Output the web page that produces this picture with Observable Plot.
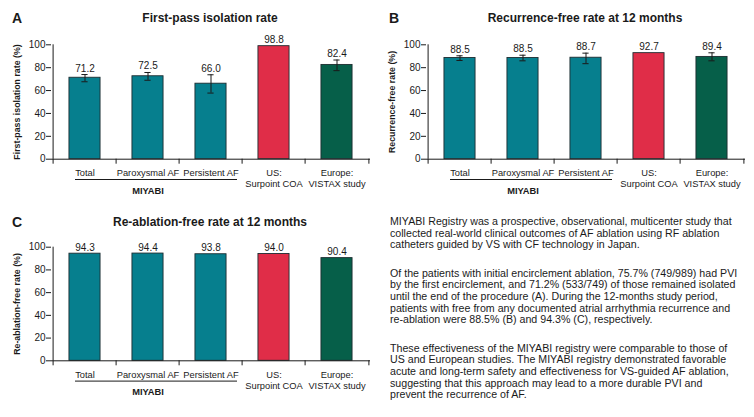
<!DOCTYPE html>
<html>
<head>
<meta charset="utf-8">
<script src="https://cdn.jsdelivr.net/npm/d3@7"></script>
<script src="https://cdn.jsdelivr.net/npm/@observablehq/plot@0.6"></script>
<style>
  html, body { margin: 0; padding: 0; background: #fff; }
  #root { position: relative; width: 754px; height: 417px; overflow: hidden; font-family: "Liberation Sans", Arial, Helvetica, sans-serif; color: #1a1a1a; }
  .panel { position: absolute; }
  .letter { position: absolute; font-weight: bold; font-size: 14px; line-height: 16px; height: 16px; }
  .title { position: absolute; font-weight: bold; font-size: 12px; line-height: 16px; height: 16px; white-space: nowrap; transform: translateX(-50%); }
  .text { position: absolute; left: 390px; top: 216px; font-size: 10.65px; line-height: 11.7px; white-space: nowrap; color: #1a1a1a; }
  .text p { margin: 0 0 16.5px 0; }
</style>
</head>
<body>
<div id="root">
  <div class="panel" id="pA" style="left:0px;top:0px"></div>
  <div class="panel" id="pB" style="left:377px;top:0px"></div>
  <div class="panel" id="pC" style="left:0px;top:205px"></div>
  <div class="letter" style="left:12px;top:10px">A</div>
  <div class="title" style="left:210px;top:10px">First-pass isolation rate</div>
  <div class="letter" style="left:389px;top:10px">B</div>
  <div class="title" style="left:585px;top:10px">Recurrence-free rate at 12 months</div>
  <div class="letter" style="left:12px;top:214px">C</div>
  <div class="title" style="left:210px;top:214px">Re-ablation-free rate at 12 months</div>
  <div class="text">
    <p>MIYABI Registry was a prospective, observational, multicenter study that<br>collected real-world clinical outcomes of AF ablation using RF ablation<br>catheters guided by VS with CF technology in Japan.</p>
    <p>Of the patients with initial encirclement ablation, 75.7% (749/989) had PVI<br>by the first encirclement, and 71.2% (533/749) of those remained isolated<br>until the end of the procedure (A). During the 12-months study period,<br>patients with free from any documented atrial arrhythmia recurrence and<br>re-ablation were 88.5% (B) and 94.3% (C), respectively.</p>
    <p>These effectiveness of the MIYABI registry were comparable to those of<br>US and European studies. The MIYABI registry demonstrated favorable<br>acute and long-term safety and effectiveness for VS-guided AF ablation,<br>suggesting that this approach may lead to a more durable PVI and<br>prevent the recurrence of AF.</p>
  </div>
</div>
<script>
// ---- data ----
const categories = ["Total", "Paroxysmal AF", "Persistent AF", "US: Surpoint COA", "Europe: VISTAX study"];
const tickLabels = ["Total", "Paroxysmal AF", "Persistent AF", "US:\nSurpoint COA", "Europe:\nVISTAX study"];
const groups = ["MIYABI", "MIYABI", "MIYABI", "US", "Europe"];
const groupNames = ["MIYABI", "US", "Europe"];
const groupColors = ["#067f8e", "#e02d48", "#065f49"];
const yTicks = [0, 20, 40, 60, 80, 100];

const firstPass   = [71.2, 72.5, 66.0, 98.8, 82.4];
const firstPassLo = [67.7, 69.0, 57.8, null, 77.4];
const firstPassHi = [74.0, 75.8, 73.8, null, 86.7];

const recurrenceFree   = [88.5, 88.5, 88.7, 92.7, 89.4];
const recurrenceFreeLo = [86.3, 86.0, 83.5, null, 86.0];
const recurrenceFreeHi = [90.4, 90.9, 92.7, null, 93.0];

const reablationFree = [94.3, 94.4, 93.8, 94.0, 90.4];

const FONT = "Liberation Sans, Arial, Helvetica, sans-serif";

function panel({values, lo, hi, yLabel, height, marginTop, marginBottom, marginLeft, marginRight}) {
  const width = 377;
  const data = categories.map((c, i) => ({
    cat: c, group: groups[i], v: values[i],
    lo: lo ? lo[i] : null, hi: hi ? hi[i] : null
  }));
  const withErr = data.filter(d => d.lo != null);
  const bw = (width - marginLeft - marginRight) / categories.length;
  return Plot.plot({
    width, height, marginTop, marginBottom, marginLeft, marginRight,
    style: {fontFamily: FONT, fontSize: "9.5px", color: "#1a1a1a", background: "transparent", overflow: "visible"},
    x: {domain: categories, padding: 0},
    y: {domain: [0, 100]},
    color: {domain: groupNames, range: groupColors},
    marks: [
      Plot.barY(data, {x: "cat", y: "v", fill: "group", stroke: "#1d2c30", strokeWidth: 0.9, insetLeft: bw / 4, insetRight: bw / 4}),
      Plot.ruleX(withErr, {x: "cat", y1: "lo", y2: "hi", stroke: "#1a1a1a", strokeWidth: 1}),
      Plot.tickY(withErr, {x: "cat", y: "lo", stroke: "#1a1a1a", strokeWidth: 1, insetLeft: bw / 2 - 3.5, insetRight: bw / 2 - 3.5}),
      Plot.tickY(withErr, {x: "cat", y: "hi", stroke: "#1a1a1a", strokeWidth: 1, insetLeft: bw / 2 - 3.5, insetRight: bw / 2 - 3.5}),
      Plot.text(data, {x: "cat", y: d => (d.hi != null ? d.hi : d.v), text: d => d.v.toFixed(1), lineAnchor: "bottom", dy: -3, fontSize: 10, fill: "#1a1a1a"}),
      Plot.axisY({ticks: yTicks, tickSize: 5, tickPadding: 1, fontSize: 10, label: yLabel, labelArrow: "none", labelAnchor: "center", labelOffset: 38}),
      Plot.ruleY([0], {stroke: "#1a1a1a"}),
      Plot.ruleX([categories[0]], {x: d => d, y1: () => 0, y2: () => 100, dx: -bw / 2, stroke: "#1a1a1a"}),
      Plot.axisX({tickSize: 0, tickPadding: 9, fontSize: 9.3, lineHeight: 1.2, tickFormat: d => tickLabels[categories.indexOf(d)], label: null}),
      Plot.axisX({tickSize: 5, dx: -bw / 2, tickFormat: () => "", label: null}),
      Plot.axisX({ticks: [categories[categories.length - 1]], tickSize: 5, dx: bw / 2, tickFormat: () => "", label: null}),
      Plot.ruleY([0], {x1: () => categories[0], x2: () => categories[2], dy: 20.3, insetLeft: 22, insetRight: 5, stroke: "#1a1a1a"}),
      Plot.text(["MIYABI"], {x: () => categories[1], y: () => 0, text: d => d, dy: 31.5, fontWeight: "bold", fontSize: 9.3, fill: "#1a1a1a"})
    ]
  });
}

const A = panel({values: firstPass, lo: firstPassLo, hi: firstPassHi, yLabel: "First-pass isolation rate (%)",
  height: 205, marginTop: 44.3, marginBottom: 46.3, marginLeft: 51, marginRight: 7});
const B = panel({values: recurrenceFree, lo: recurrenceFreeLo, hi: recurrenceFreeHi, yLabel: "Recurrence-free rate (%)",
  height: 205, marginTop: 44.3, marginBottom: 46.3, marginLeft: 49, marginRight: 9});
const C = panel({values: reablationFree, lo: null, hi: null, yLabel: "Re-ablation-free rate (%)",
  height: 212, marginTop: 41.7, marginBottom: 56.7, marginLeft: 51, marginRight: 7});

document.getElementById("pA").appendChild(A);
document.getElementById("pB").appendChild(B);
document.getElementById("pC").appendChild(C);
// bold axis labels, strip any direction arrow
for (const svg of [A, B, C]) {
  svg.querySelectorAll("[aria-label='y-axis label'] text, [aria-label='y-axis label']").forEach(el => {
    el.setAttribute("font-weight", "bold");
    el.setAttribute("font-size", "8.8");
  });
  svg.querySelectorAll("[aria-label='y-axis label'] text").forEach(el => {
    const t = el.textContent;
    if (/^[↑↓]\s*/.test(t)) el.textContent = t.replace(/^[↑↓]\s*/, "");
  });
}
</script>
</body>
</html>
